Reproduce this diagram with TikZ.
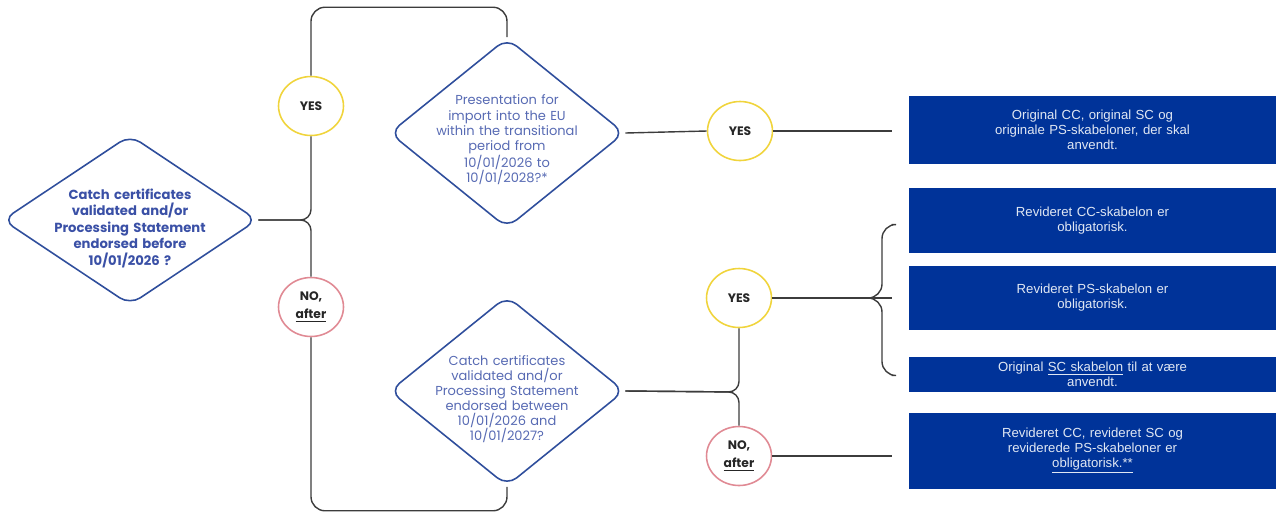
\documentclass[tikz,border=0pt]{standalone}
\usepackage{fontspec}
\setmainfont{Poppins}
\newfontfamily\boxfont{Liberation Sans}
\usetikzlibrary{shapes.geometric,calc}

\definecolor{ruleblue}{HTML}{2F4E9C}
\definecolor{qblue}{HTML}{3A50A6}
\definecolor{boxblue}{HTML}{003399}
\definecolor{yesyellow}{HTML}{F0D43C}
\definecolor{nored}{HTML}{E08A94}
\definecolor{linegray}{HTML}{3C3C3C}

\begin{document}
\begin{tikzpicture}
    [x=0.02cm, y=-0.02cm,
     decision/.style={diamond, draw=ruleblue, line width=0.9pt, rounded corners=7pt, inner sep=0pt},
     question/.style={text=qblue!85, align=center, text width=3.4cm, font=\fontsize{7.4}{8.6}\selectfont},
     answer/.style={ellipse, line width=0.9pt, minimum width=1.3cm, minimum height=1.18cm, inner sep=0pt, align=center, text=black!85, font=\bfseries\fontsize{7}{10}\selectfont},
     yesring/.style={answer, draw=yesyellow},
     noring/.style={answer, draw=nored},
     result/.style={rectangle, fill=boxblue, minimum width=7.34cm, text width=6.8cm, inner sep=0pt, align=center, text=white!88!boxblue, font=\boxfont\fontsize{7.5}{8.5}\selectfont},
     wire/.style={draw=linegray, line width=0.8pt}]
    \useasboundingbox (0,0) rectangle (1284,512);

    % questions
    \node[decision, minimum width=5.1cm, minimum height=3.4cm] (d1) at (130,220) {};
    \node[question, text=qblue, text width=3.5cm, font=\bfseries\fontsize{7.5}{9.4}\selectfont] (q1) at (130,228) {Catch certificates\\ validated and/or\\ Processing Statement\\ endorsed before\\ 10/01/2026 ?};
    \node[decision, minimum width=4.7cm, minimum height=3.8cm] (d2) at (507,133) {};
    \node[question] (q2) at (507,140) {Presentation for\\ import into the EU\\ within the transitional\\ period from\\ 10/01/2026 to\\ 10/01/2028?*};
    \node[decision, minimum width=4.7cm, minimum height=3.8cm] (d3) at (507,391) {};
    \node[question] (q3) at (507,399) {Catch certificates\\ validated and/or\\ Processing Statement\\ endorsed between\\ 10/01/2026 and\\ 10/01/2027?};

    % answers
    \node[yesring] (yes1) at (311,106) {YES};
    \node[noring] (no1) at (311,307) {NO,\\ \underline{after}};
    \node[yesring] (yes2) at (740,131) {YES};
    \node[yesring] (yes3) at (739,298) {YES};
    \node[noring] (no3) at (739,456) {NO,\\ \underline{after}};

    % outcomes
    \node[result, minimum height=1.36cm] (b1) at (1092.5,130) {Original CC, original SC og\\ originale PS-skabeloner, der skal\\ anvendt.};
    \node[result, minimum height=1.3cm] (b2) at (1092.5,220.5) {Revideret CC-skabelon er\\ obligatorisk.};
    \node[result, minimum height=1.28cm] (b3) at (1092.5,298) {Revideret PS-skabelon er\\ obligatorisk.};
    \node[result, minimum height=0.7cm] (b4) at (1092.5,374.5) {Original \underline{SC skabelon} til at være\\ anvendt.};
    \node[result, minimum height=1.52cm] (b5) at (1092.5,451) {Revideret CC, revideret SC og\\ reviderede PS-skabeloner er\\ \underline{obligatorisk.**}};

    \coordinate (j1) at (311,220);
    \coordinate (j3) at (739,392);
    \coordinate (j4) at (882,298);
    \coordinate (e1) at ($(b1.west)+(-17,1)$);
    \coordinate (e2) at ($(b2.west)+(-17,4)$);
    \coordinate (e3) at ($(b3.west)+(-17,0)$);
    \coordinate (e4) at ($(b4.west)+(-17,1)$);
    \coordinate (e5) at ($(b5.west)+(-17,5)$);

    % first split
    \draw[wire, rounded corners=6] (yes1.south) -- (j1) -- (d1.east);
    \draw[wire, rounded corners=6] (no1.north) -- (j1) -- (d1.east);
    \draw[wire, rounded corners=8] (yes1.north) |- ($(d2.north)+(0,-30)$) -- (d2.north);
    \draw[wire, rounded corners=8] (no1.south) |- ($(d3.south)+(0,24)$) -- (d3.south);

    % upper branch
    \draw[wire] (d2.east) -- (yes2.west);
    \draw[wire] (yes2.east) -- (e1);

    % lower branch
    \draw[wire, rounded corners=6] (yes3.south) -- (j3) -- (d3.east);
    \draw[wire, rounded corners=6] (no3.north) -- (j3) -- (d3.east);
    \draw[wire] (yes3.east) -- (e3);
    \draw[wire, rounded corners=8] (e2) -| (j4) -- (yes3.east);
    \draw[wire, rounded corners=8] (e4) -| (j4) -- (yes3.east);
    \draw[wire] (no3.east) -- (no3.east -| e5);
\end{tikzpicture}
\end{document}
